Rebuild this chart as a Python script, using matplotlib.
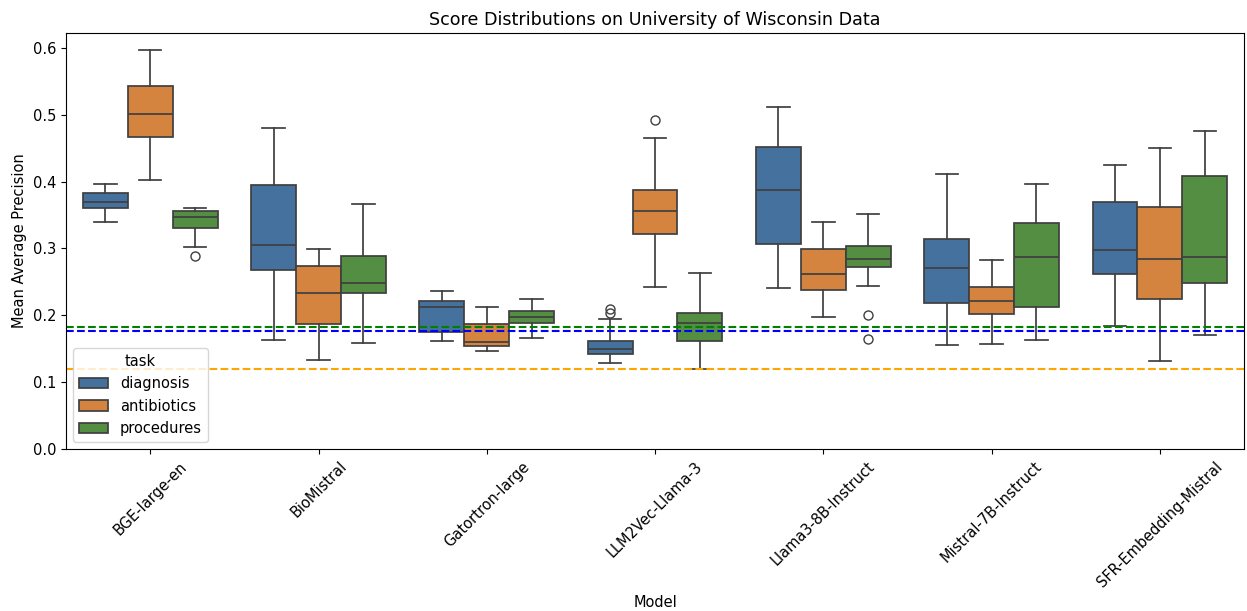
import matplotlib
matplotlib.use("Agg")
import matplotlib.pyplot as plt
from matplotlib.patches import Patch

models = ['BGE-large-en', 'BioMistral', 'Gatortron-large', 'LLM2Vec-Llama-3',
          'Llama3-8B-Instruct', 'Mistral-7B-Instruct', 'SFR-Embedding-Mistral']
tasks = ['diagnosis', 'antibiotics', 'procedures']

# (whisker low, q1, median, q3, whisker high) per model
diagnosis_stats = [
    (0.340, 0.361, 0.370, 0.383, 0.397),
    (0.163, 0.268, 0.305, 0.395, 0.480),
    (0.162, 0.175, 0.213, 0.222, 0.236),
    (0.128, 0.142, 0.150, 0.162, 0.194),
    (0.241, 0.307, 0.387, 0.452, 0.512),
    (0.156, 0.219, 0.270, 0.314, 0.411),
    (0.184, 0.261, 0.298, 0.370, 0.424),
]
antibiotics_stats = [
    (0.402, 0.466, 0.501, 0.543, 0.597),
    (0.133, 0.187, 0.234, 0.274, 0.299),
    (0.147, 0.154, 0.160, 0.187, 0.213),
    (0.243, 0.321, 0.356, 0.387, 0.465),
    (0.197, 0.238, 0.262, 0.299, 0.340),
    (0.157, 0.202, 0.221, 0.242, 0.282),
    (0.131, 0.224, 0.284, 0.362, 0.450),
]
procedures_stats = [
    (0.302, 0.330, 0.347, 0.356, 0.361),
    (0.159, 0.233, 0.249, 0.288, 0.367),
    (0.166, 0.188, 0.198, 0.206, 0.224),
    (0.120, 0.162, 0.189, 0.204, 0.263),
    (0.244, 0.272, 0.284, 0.303, 0.351),
    (0.163, 0.213, 0.287, 0.338, 0.397),
    (0.170, 0.249, 0.287, 0.408, 0.475),
]
diagnosis_fliers = [[], [], [], [0.209, 0.203], [], [], []]
antibiotics_fliers = [[], [], [], [0.492], [], [], []]
procedures_fliers = [[0.288], [], [], [], [0.201, 0.164], [], []]

# random-guess baselines
baselines = {'procedures': 0.182, 'diagnosis': 0.177, 'antibiotics': 0.120}
baseline_colors = {'procedures': 'green', 'diagnosis': 'blue', 'antibiotics': 'orange'}

box_colors = ['#44719e', '#d58440', '#548e42']
line_color = '#3f3f3f'

all_stats = [diagnosis_stats, antibiotics_stats, procedures_stats]
all_fliers = [diagnosis_fliers, antibiotics_fliers, procedures_fliers]

plt.rcParams['font.size'] = 10.5

fig, ax = plt.subplots(figsize=(12.47, 6.11), dpi=100)
fig.subplots_adjust(left=0.053, right=0.9976, top=0.946, bottom=0.265)

w = 0.8 / 3
for k, task in enumerate(tasks):
    stats = []
    for s, fl in zip(all_stats[k], all_fliers[k]):
        lo, q1, med, q3, hi = s
        stats.append(dict(whislo=lo, q1=q1, med=med, q3=q3, whishi=hi, fliers=fl))
    positions = [i + (k - 1) * w for i in range(len(models))]
    ax.bxp(stats, positions=positions, widths=w, patch_artist=True,
           capwidths=w * 0.5, manage_ticks=False,
           boxprops=dict(facecolor=box_colors[k], edgecolor=line_color, linewidth=1.25),
           medianprops=dict(color=line_color, linewidth=1.25),
           whiskerprops=dict(color=line_color, linewidth=1.25),
           capprops=dict(color=line_color, linewidth=1.25),
           flierprops=dict(marker='o', markerfacecolor='none',
                           markeredgecolor=line_color, markersize=6.5, linewidth=0))

for task in ['procedures', 'diagnosis', 'antibiotics']:
    ax.axhline(baselines[task], color=baseline_colors[task], linestyle='--', linewidth=1.5)

ax.set_xticks(range(len(models)))
ax.set_xticklabels(models, rotation=45)
ax.set_xlim(-0.5, len(models) - 0.5)
ax.set_ylim(0, 0.622)
ax.set_xlabel('Model')
ax.set_ylabel('Mean Average Precision')
ax.set_title('Score Distributions on University of Wisconsin Data', fontsize=12.6)

handles = [Patch(facecolor=c, edgecolor=line_color, linewidth=1.25, label=t)
           for c, t in zip(box_colors, tasks)]
ax.legend(handles=handles, title='task', loc='lower left')

fig.savefig('out.png', dpi=100)
